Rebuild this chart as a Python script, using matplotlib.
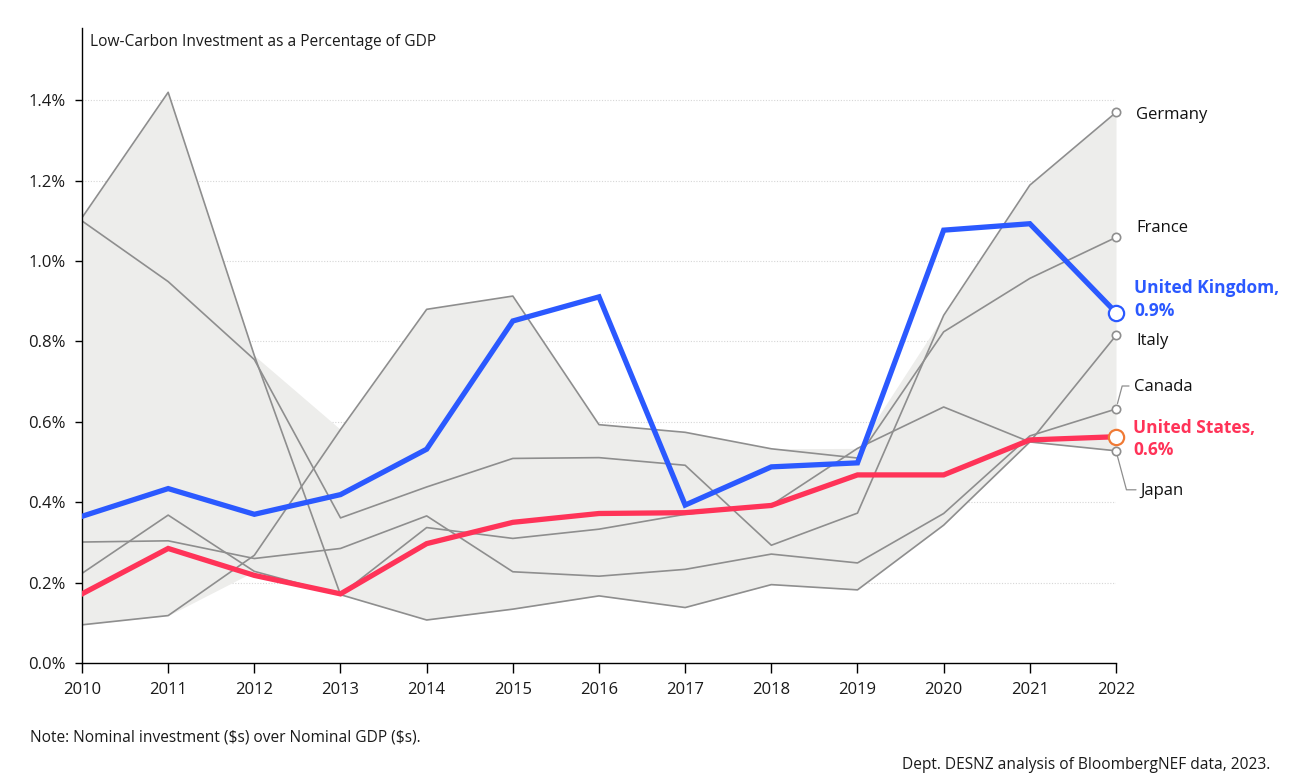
import numpy as np
from matplotlib import pyplot as plt

plt.rcParams['font.family'] = ['Open Sans', 'DejaVu Sans']

years = np.arange(2010, 2023)

# low-carbon investment, % of GDP
uk = [0.365, 0.434, 0.370, 0.419, 0.532, 0.851, 0.911, 0.393, 0.488, 0.498, 1.077, 1.093, 0.872]
us = [0.172, 0.285, 0.218, 0.172, 0.297, 0.350, 0.372, 0.374, 0.392, 0.468, 0.468, 0.555, 0.563]
germany = [1.100, 0.949, 0.755, 0.361, 0.438, 0.509, 0.511, 0.492, 0.293, 0.373, 0.865, 1.189, 1.370]
france = [0.095, 0.118, 0.268, 0.581, 0.880, 0.913, 0.593, 0.574, 0.533, 0.510, 0.824, 0.957, 1.059]
italy = [1.108, 1.420, 0.765, 0.170, 0.107, 0.134, 0.167, 0.138, 0.195, 0.182, 0.343, 0.550, 0.815]
canada = [0.301, 0.304, 0.260, 0.285, 0.366, 0.227, 0.216, 0.233, 0.271, 0.249, 0.372, 0.565, 0.632]
japan = [0.223, 0.368, 0.228, 0.170, 0.337, 0.310, 0.333, 0.370, 0.393, 0.534, 0.637, 0.550, 0.528]

others = {'Germany': germany, 'France': france, 'Italy': italy, 'Canada': canada, 'Japan': japan}
yticks = [0.0, 0.2, 0.4, 0.6, 0.8, 1.0, 1.2, 1.4]

BLUE = '#2B59FF'
RED = '#FF3358'
ORANGE = '#F07A35'
GREY = '#8E8E8E'
BAND = '#EDEDEB'

fig = plt.figure(figsize=(12.94, 7.74), dpi=100)
ax = fig.add_axes([82/1294, 1-663/774, (1116-82)/1294, (663-28)/774])
ax.set_xlim(2010, 2022)
ax.set_ylim(0, 1.58)

stack = np.array(list(others.values()))
ax.fill_between(years, stack.min(axis=0), stack.max(axis=0), color=BAND, lw=0, zorder=1)

for v in yticks[1:]:
    ax.axhline(v, color='#D6D6D6', lw=0.8, ls=(0, (1, 1.5)), zorder=0.5)

for name, vals in others.items():
    ax.plot(years, vals, color=GREY, lw=1.2, zorder=2)
    ax.plot(years[-1], vals[-1], 'o', ms=6, mfc='white', mec=GREY, mew=1.2, zorder=5, clip_on=False)

ax.plot(years, us, color=RED, lw=3.8, zorder=3, solid_joinstyle='miter')
ax.plot(years, uk, color=BLUE, lw=3.8, zorder=4, solid_joinstyle='miter')
ax.plot(years[-1], us[-1], 'o', ms=11, mfc='white', mec=ORANGE, mew=1.6, zorder=6, clip_on=False)
ax.plot(years[-1], uk[-1], 'o', ms=11, mfc='white', mec=BLUE, mew=1.6, zorder=6, clip_on=False)

# end labels
offsets = {'Germany': (20, -3), 'France': (20, 9), 'Italy': (20, -6), 'Canada': (18, 22), 'Japan': (24, -40)}
for name, vals in others.items():
    ax.annotate(name, xy=(2022, vals[-1]), xytext=offsets[name], textcoords='offset pixels',
                fontsize=12, color='#111111', va='center', ha='left', annotation_clip=False)
ax.annotate('United Kingdom,\n0.9%', xy=(2022, uk[-1]), xytext=(18, 13), textcoords='offset pixels',
            fontsize=12.5, fontweight='bold', color=BLUE, va='center', ha='left', linespacing=1.3,
            annotation_clip=False)
ax.annotate('United States,\n0.6%', xy=(2022, us[-1]), xytext=(17, -2), textcoords='offset pixels',
            fontsize=12.5, fontweight='bold', color=RED, va='center', ha='left', linespacing=1.3,
            annotation_clip=False)

# leader lines for Canada and Japan
ax.annotate('', xy=(2022, canada[-1]), xytext=(13, 23), textcoords='offset pixels',
            arrowprops=dict(arrowstyle='-', color=GREY, lw=0.9, shrinkA=0, shrinkB=4,
                            connectionstyle='angle,angleA=180,angleB=75,rad=0'),
            annotation_clip=False)
ax.annotate('', xy=(2022, japan[-1]), xytext=(20, -39), textcoords='offset pixels',
            arrowprops=dict(arrowstyle='-', color=GREY, lw=0.9, shrinkA=0, shrinkB=4,
                            connectionstyle='angle,angleA=180,angleB=-75,rad=0'),
            annotation_clip=False)

ax.spines['top'].set_visible(False)
ax.spines['right'].set_visible(False)
ax.spines['left'].set_linewidth(1.0)
ax.spines['bottom'].set_linewidth(1.0)

ax.set_yticks(yticks)
ax.set_yticklabels([f'{v:.1f}%' for v in yticks])
ax.set_xticks(years)
ax.tick_params(axis='y', length=5, width=1, pad=7, labelsize=12, labelcolor='#1a1a1a')
ax.tick_params(axis='x', length=7, width=1, pad=7, labelsize=12, labelcolor='#1a1a1a')

fig.text(90/1294, 1-42/774, 'Low-Carbon Investment as a Percentage of GDP', fontsize=11.2,
         color='#1a1a1a', va='center', ha='left')
fig.text(30/1294, 1-738/774, r'Note: Nominal investment (\$s) over Nominal GDP (\$s).', fontsize=11.2,
         color='#1a1a1a', va='center', ha='left')
fig.text(1270/1294, 1-765/774, 'Dept. DESNZ analysis of BloombergNEF data, 2023.', fontsize=11.2,
         color='#1a1a1a', va='center', ha='right')

fig.savefig('out.png', dpi=100)
